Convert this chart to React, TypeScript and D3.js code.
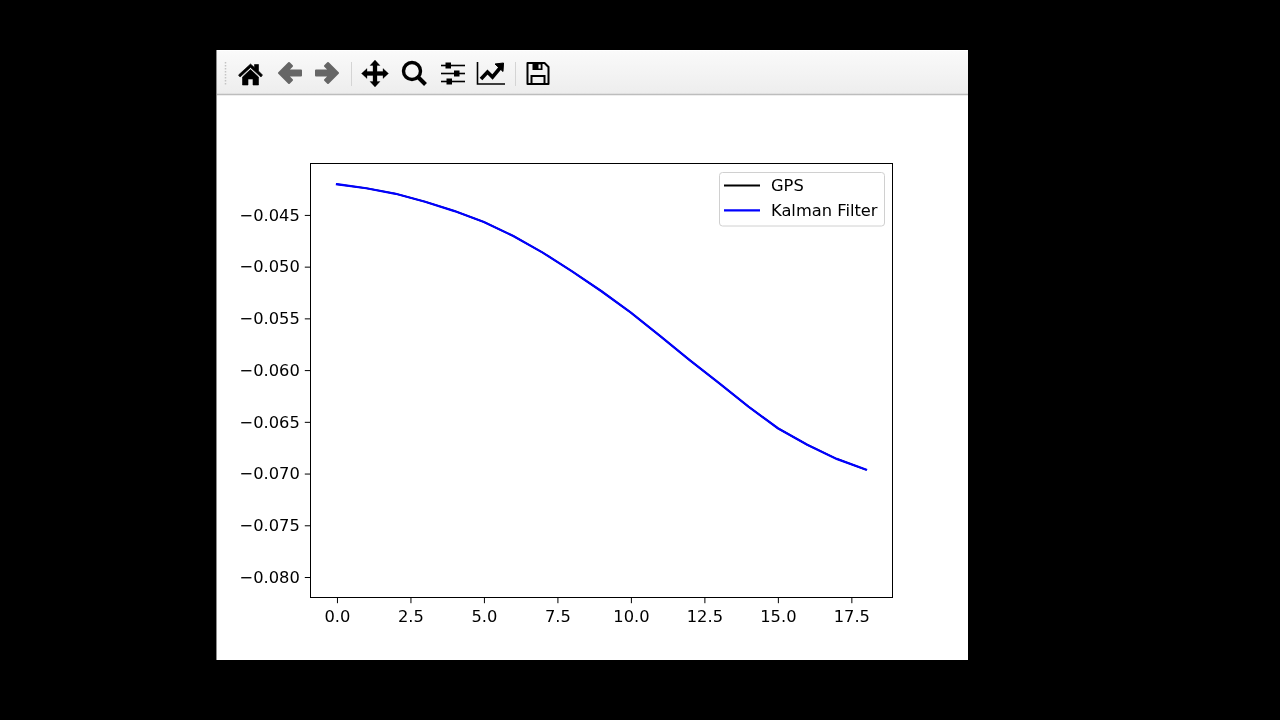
import React, { useEffect, useRef } from 'react';
import * as d3 from 'd3';

// values, one per time step
const steps = [0, 1, 2, 3, 4, 5, 6, 7, 8, 9, 10, 11, 12, 13, 14, 15, 16, 17, 18];
const kalman = [
  -0.04203, -0.04242, -0.04296, -0.04373, -0.04463, -0.04569, -0.04704, -0.04864, -0.05045, -0.05238,
  -0.05445, -0.05672, -0.05903, -0.06125, -0.06353, -0.06562, -0.06722, -0.06858, -0.06962,
];
const gps = [...kalman];
const xTicks = [0, 2.5, 5, 7.5, 10, 12.5, 15, 17.5];
const yTicks = [-0.045, -0.05, -0.055, -0.06, -0.065, -0.07, -0.075, -0.08];
const xDomain = [-0.9, 18.9];
const yDomain = [-0.08198, -0.04003];
const legendLabels = ['GPS', 'Kalman Filter'];
const legendColors = ['#000000', '#0000ff'];

const FONT = '"DejaVu Sans", sans-serif';
const plot = { left: 310.5, right: 892.5, top: 163.5, bottom: 597.5 };

const Toolbar = () => (
  <g>
    <rect x={217} y={51} width={751} height={43} fill="url(#toolbarGrad)" />
    <line x1={217} x2={968} y1={94.5} y2={94.5} stroke="#bdbdbd" strokeWidth={1.5} />
    <line x1={225.5} x2={225.5} y1={62} y2={86} stroke="#c4c4c4" strokeWidth={1.5} strokeDasharray="1.5 1.5" />
    <line x1={351.5} x2={351.5} y1={62} y2={86} stroke="#d4d4d4" />
    <line x1={515.5} x2={515.5} y1={62} y2={86} stroke="#d4d4d4" />
    {/* home */}
    <path
      transform="translate(250.5,75)"
      d="M-12,0 L0,-11 L4,-7.5 L4,-10.5 L8,-10.5 L8,-4 L12,0 L10.5,2 L0,-7.5 L-10.5,2 Z M-8,2 L0,-5.5 L8,2 L8,10 L2.5,10 L2.5,4 L-2.5,4 L-2.5,10 L-8,10 Z"
      fill="#000"
      stroke="#000"
      strokeWidth={0.6}
    />
    {/* back */}
    <path
      transform="translate(290,73)"
      d="M-11,0 L-1,-10 L2,-7 L-2.5,-2.5 L11,-2.5 L11,2.5 L-2.5,2.5 L2,7 L-1,10 Z"
      fill="#666"
      stroke="#666"
      strokeWidth={2}
      strokeLinejoin="round"
    />
    {/* forward */}
    <path
      transform="translate(327,73)"
      d="M11,0 L1,-10 L-2,-7 L2.5,-2.5 L-11,-2.5 L-11,2.5 L2.5,2.5 L-2,7 L1,10 Z"
      fill="#666"
      stroke="#666"
      strokeWidth={2}
      strokeLinejoin="round"
    />
    {/* pan */}
    <path
      transform="translate(375,73.5)"
      d="M0,-13.5 L5,-8 L2,-8 L2,-2 L8,-2 L8,-5 L13.5,0 L8,5 L8,2 L2,2 L2,8 L5,8 L0,13.5 L-5,8 L-2,8 L-2,2 L-8,2 L-8,5 L-13.5,0 L-8,-5 L-8,-2 L-2,-2 L-2,-8 L-5,-8 Z"
      fill="#000"
      stroke="#000"
      strokeWidth={0.3}
    />
    {/* zoom */}
    <g transform="translate(414,73)" fill="none" stroke="#000">
      <circle cx={-2} cy={-2} r={8.5} strokeWidth={3.4} />
      <line x1={4.5} y1={4.5} x2={11.5} y2={11.5} strokeWidth={4} />
    </g>
    {/* subplots */}
    <g transform="translate(453,73.5)" stroke="#000">
      <line x1={-12} x2={12} y1={-8} y2={-8} strokeWidth={1.6} />
      <line x1={-12} x2={12} y1={0} y2={0} strokeWidth={1.6} />
      <line x1={-12} x2={12} y1={8} y2={8} strokeWidth={1.6} />
      <rect x={-7} y={-10.5} width={4.5} height={5} fill="#000" />
      <rect x={1.5} y={-2.5} width={4.5} height={5} fill="#000" />
      <rect x={-6} y={5.5} width={4.5} height={5} fill="#000" />
    </g>
    {/* lines */}
    <g transform="translate(491,73)" fill="none" stroke="#000">
      <path d="M-13.5,-11 L-13.5,11 L14,11" strokeWidth={1.6} />
      <path d="M-10,6 L-3.5,-1 L1.5,4 L9,-5" strokeWidth={3.6} />
      <path d="M4,-9 L12.5,-10 L12,-1.5 Z" fill="#000" strokeWidth={1} />
    </g>
    {/* save */}
    <g transform="translate(538,73.5)" fill="none" stroke="#000" strokeWidth={2}>
      <path d="M-10.5,-10.5 L6.5,-10.5 L10.5,-6.5 L10.5,10.5 L-10.5,10.5 Z" strokeLinejoin="round" />
      <rect x={-5.5} y={-10} width={10} height={6.5} fill="#000" stroke="none" />
      <rect x={0.5} y={-9} width={2.2} height={4} fill="#f2f2f2" stroke="none" />
      <rect x={-6.5} y={2.5} width={13} height={8} />
    </g>
  </g>
);

const App: React.FC = () => {
  const axesRef = useRef<SVGGElement | null>(null);

  const x = d3.scaleLinear().domain(xDomain).range([plot.left, plot.right]);
  const y = d3.scaleLinear().domain(yDomain).range([plot.bottom, plot.top]);
  const line = d3
    .line<number>()
    .x((_, i) => x(steps[i]))
    .y((d) => y(d));

  useEffect(() => {
    const g = d3.select(axesRef.current);
    g.selectAll('*').remove();

    const xAxis = d3
      .axisBottom(x)
      .tickValues(xTicks)
      .tickSize(5.7)
      .tickPadding(7)
      .tickFormat((d) => d3.format('.1f')(d as number));
    const yAxis = d3
      .axisLeft(y)
      .tickValues(yTicks)
      .tickSize(5.7)
      .tickPadding(5)
      .tickFormat((d) => d3.format('.3f')(d as number).replace('-', '\u2212'));

    const gx = g.append('g').attr('transform', `translate(0,${plot.bottom})`).call(xAxis);
    const gy = g.append('g').attr('transform', `translate(${plot.left},0)`).call(yAxis);
    [gx, gy].forEach((a) => {
      a.select('.domain').remove();
      a.selectAll('text').attr('font-family', FONT).attr('font-size', 16.3).attr('fill', '#000');
      a.selectAll('line').attr('stroke', '#000').attr('stroke-width', 1);
    });
  }, []);

  return (
    <svg
      width={1280}
      height={720}
      viewBox="0 0 1280 720"
      style={{ position: 'fixed', left: 0, top: 0, display: 'block' }}
    >
      <defs>
        <linearGradient id="toolbarGrad" x1="0" y1="0" x2="0" y2="1">
          <stop offset="0" stopColor="#fafafa" />
          <stop offset="1" stopColor="#ededed" />
        </linearGradient>
        <filter id="soften" x="0" y="0" width="100%" height="100%">
          <feGaussianBlur stdDeviation="0.35" />
        </filter>
      </defs>
      <g filter="url(#soften)">
        <rect width={1280} height={720} fill="#000" />
        <rect x={216} y={50} width={752} height={610} fill="#fff" />
        <line x1={216.5} x2={216.5} y1={50} y2={660} stroke="#8c8c8c" />
        <Toolbar />

        <path d={line(gps) ?? ''} fill="none" stroke={legendColors[0]} strokeWidth={1.6} />
        <path d={line(kalman) ?? ''} fill="none" stroke={legendColors[1]} strokeWidth={2.2} strokeLinecap="square" />

        <rect
          x={plot.left}
          y={plot.top}
          width={plot.right - plot.left}
          height={plot.bottom - plot.top}
          fill="none"
          stroke="#000"
          strokeWidth={1}
        />
        <g ref={axesRef} />

        <rect x={719.5} y={172.5} width={165} height={53.5} rx={3} fill="#fff" stroke="#d0d0d0" strokeWidth={1} />
        {legendLabels.map((label, i) => (
          <g key={label}>
            <line x1={724} x2={760} y1={185.5 + i * 24.8} y2={185.5 + i * 24.8} stroke={legendColors[i]} strokeWidth={2.2} />
            <text x={771} y={191 + i * 24.8} fontFamily={FONT} fontSize={16.3} fill="#000">
              {label}
            </text>
          </g>
        ))}
      </g>
    </svg>
  );
};

export default App;
